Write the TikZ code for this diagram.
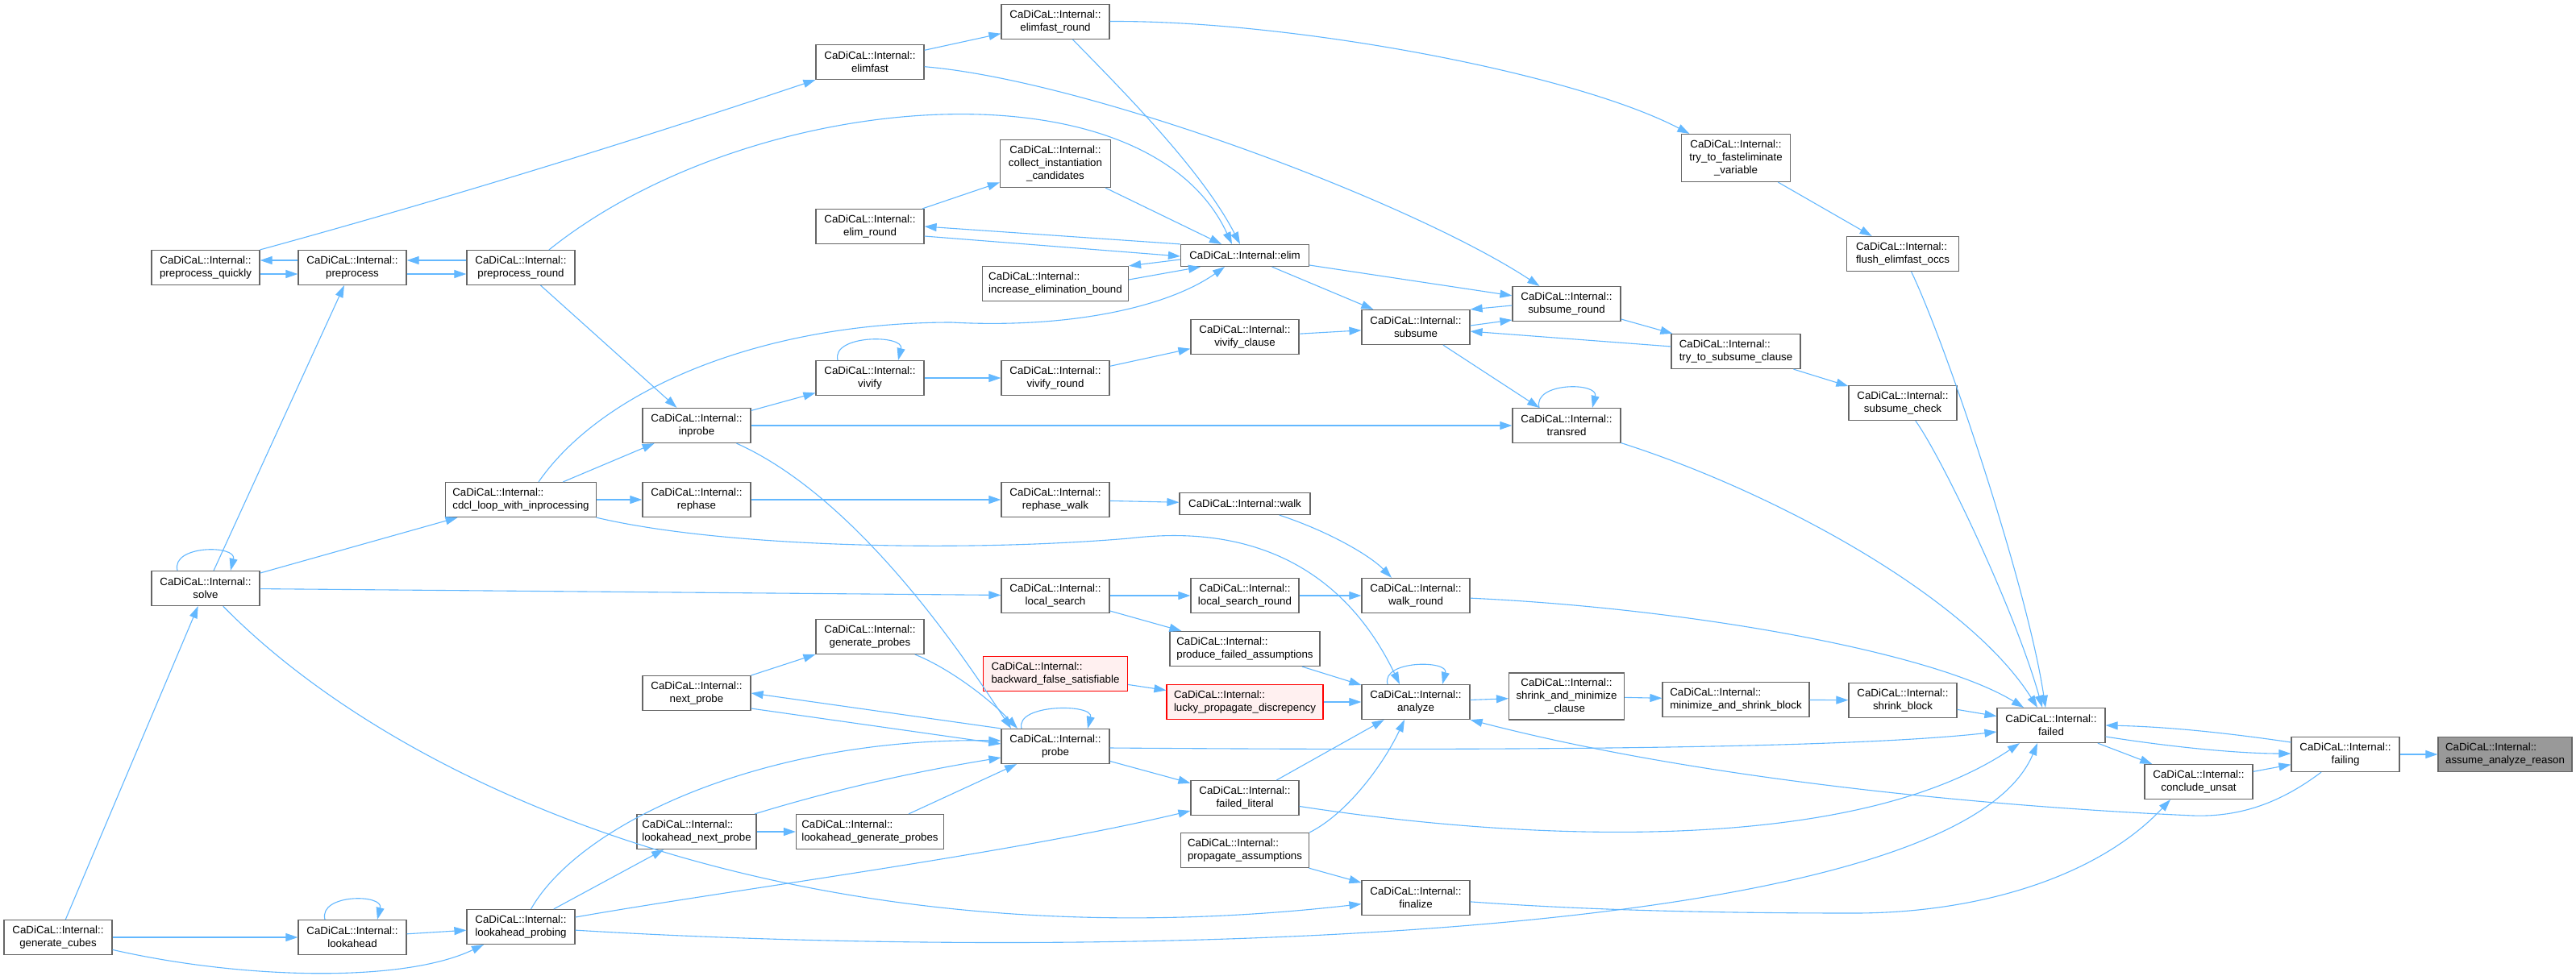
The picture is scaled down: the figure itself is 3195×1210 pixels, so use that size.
\documentclass[tikz,border=0pt]{standalone}
\usepackage{fontspec}
\setmainfont{Liberation Sans}
\usetikzlibrary{arrows.meta}
\definecolor{edgec}{HTML}{63B8FF}
\definecolor{boxc}{HTML}{666666}
\definecolor{redfill}{HTML}{FFF0F0}
\definecolor{rootfill}{HTML}{999999}
\begin{document}
\begin{tikzpicture}[x=1pt,y=-1pt,
 box/.style={draw=boxc, line width=1.2pt, fill=white, rectangle, inner sep=0pt,
   minimum width=134pt, minimum height=43pt, align=center,
   font=\fontsize{13.3}{16.3}\selectfont},
 lbox/.style={box, align=left},
 redbox/.style={lbox, draw=red, fill=redfill},
 rootbox/.style={lbox, fill=rootfill},
 e/.style={draw=edgec, line width=1.1pt, -{Triangle[length=15pt,width=10pt]}},
]
\fill[white] (0,0) rectangle (3195,1210);
\useasboundingbox (0,0) rectangle (3195,1210);

% nodes
\node[box] (pq) at (255,332) {CaDiCaL::Internal::\\preprocess\_quickly};
\node[box] (pp) at (437,332) {CaDiCaL::Internal::\\preprocess};
\node[box] (ppr) at (646,332) {CaDiCaL::Internal::\\preprocess\_round};
\node[box] (efr) at (1309,27) {CaDiCaL::Internal::\\elimfast\_round};
\node[box] (ef) at (1079,77) {CaDiCaL::Internal::\\elimfast};
\node[box, minimum width=137pt, minimum height=59pt] (cic) at (1309,203) {CaDiCaL::Internal::\\collect\_instantiation\\\_candidates};
\node[box] (er) at (1079,281) {CaDiCaL::Internal::\\elim\_round};
\node[box, minimum width=159pt, minimum height=27pt] (elim) at (1544,317) {CaDiCaL::Internal::elim};
\node[lbox, minimum width=181pt] (ieb) at (1309,352) {CaDiCaL::Internal::\\increase\_elimination\_bound};
\node[box] (vc) at (1544,418) {CaDiCaL::Internal::\\vivify\_clause};
\node[box] (viv) at (1079,469) {CaDiCaL::Internal::\\vivify};
\node[box] (vr) at (1309,469) {CaDiCaL::Internal::\\vivify\_round};
\node[box] (inp) at (864,528) {CaDiCaL::Internal::\\inprobe};
\node[box] (sr) at (1943,377) {CaDiCaL::Internal::\\subsume\_round};
\node[box] (sub) at (1756,406) {CaDiCaL::Internal::\\subsume};
\node[box, minimum width=135pt, minimum height=59pt] (tfv) at (2153,196) {CaDiCaL::Internal::\\try\_to\_fasteliminate\\\_variable};
\node[lbox, minimum width=139pt] (feo) at (2360,315) {CaDiCaL::Internal::\\flush\_elimfast\_occs};
\node[lbox, minimum width=160pt] (tsc) at (2153,436) {CaDiCaL::Internal::\\try\_to\_subsume\_clause};
\node[box] (sc) at (2360,500) {CaDiCaL::Internal::\\subsume\_check};
\node[box] (tr) at (1943,528) {CaDiCaL::Internal::\\transred};
\node[lbox, minimum width=187pt] (cdcl) at (646,620) {CaDiCaL::Internal::\\cdcl\_loop\_with\_inprocessing};
\node[box] (solve) at (255,730) {CaDiCaL::Internal::\\solve};
\node[box] (gc) at (72,1163) {CaDiCaL::Internal::\\generate\_cubes};
\node[box] (la) at (437,1163) {CaDiCaL::Internal::\\lookahead};
\node[box] (lap) at (646,1150) {CaDiCaL::Internal::\\lookahead\_probing};
\node[box] (reph) at (864,620) {CaDiCaL::Internal::\\rephase};
\node[box] (rw) at (1309,620) {CaDiCaL::Internal::\\rephase\_walk};
\node[box, minimum width=162pt, minimum height=27pt] (walk) at (1544,625) {CaDiCaL::Internal::walk};
\node[box] (ls) at (1309,739) {CaDiCaL::Internal::\\local\_search};
\node[box] (lsr) at (1544,739) {CaDiCaL::Internal::\\local\_search\_round};
\node[box] (gp) at (1079,790) {CaDiCaL::Internal::\\generate\_probes};
\node[lbox, minimum width=186pt] (pfa) at (1544,805) {CaDiCaL::Internal::\\produce\_failed\_assumptions};
\node[redbox, minimum width=179pt] (bfs) at (1309,836) {CaDiCaL::Internal::\\backward\_false\_satisfiable};
\node[redbox, minimum width=194pt] (lpd) at (1544,871) {CaDiCaL::Internal::\\lucky\_propagate\_discrepency};
\node[box] (np) at (864,860) {CaDiCaL::Internal::\\next\_probe};
\node[box] (probe) at (1309,926) {CaDiCaL::Internal::\\probe};
\node[box] (fl) at (1544,990) {CaDiCaL::Internal::\\failed\_literal};
\node[lbox, minimum width=148pt] (lnp) at (864,1032) {CaDiCaL::Internal::\\lookahead\_next\_probe};
\node[lbox, minimum width=183pt] (lgp) at (1079,1032) {CaDiCaL::Internal::\\lookahead\_generate\_probes};
\node[lbox, minimum width=159pt] (pa) at (1544,1055) {CaDiCaL::Internal::\\propagate\_assumptions};
\node[box] (wr) at (1756,739) {CaDiCaL::Internal::\\walk\_round};
\node[box] (an) at (1756,871) {CaDiCaL::Internal::\\analyze};
\node[box, minimum width=143pt, minimum height=58pt] (smc) at (1943,864) {CaDiCaL::Internal::\\shrink\_and\_minimize\\\_clause};
\node[lbox, minimum width=182pt] (msb) at (2153,868) {CaDiCaL::Internal::\\minimize\_and\_shrink\_block};
\node[box] (shb) at (2360,869) {CaDiCaL::Internal::\\shrink\_block};
\node[box] (fin) at (1756,1114) {CaDiCaL::Internal::\\finalize};
\node[box] (failed) at (2544,900) {CaDiCaL::Internal::\\failed};
\node[box] (failing) at (2909,936) {CaDiCaL::Internal::\\failing};
\node[rootbox, minimum width=166pt] (aar) at (3107,936) {CaDiCaL::Internal::\\assume\_analyze\_reason};
\node[box] (cu) at (2727,970) {CaDiCaL::Internal::\\conclude\_unsat};

% edges - left
\draw[e] ([yshift=9pt]pp.west) -- ([yshift=9pt]pq.east);
\draw[e] ([yshift=-8pt]pq.east) -- ([yshift=-8pt]pp.west);
\draw[e] ([yshift=9pt]ppr.west) -- ([yshift=9pt]pp.east);
\draw[e] ([yshift=-8pt]pp.east) -- ([yshift=-8pt]ppr.west);
\draw[e] (pq.north east) .. controls (552,247) and (782,176) .. (ef.south west);
\draw[e] ([xshift=35pt]ppr.north) .. controls (930,110) and (1420,70) .. ([xshift=-16pt]elim.north);
\draw[e] (ppr) -- (inp);
\draw[e] (solve) -- (pp);
\draw[e] ([xshift=-35pt]solve.north) .. controls +(-8,-32) and +(8,-32) .. ([xshift=31pt]solve.north);
\draw[e] (solve) -- (cdcl);
\draw[e] (solve) -- (ls);
\draw[e] (solve) .. controls (500,980) and (1000,1200) .. (fin);
\draw[e] (gc) -- (solve);
\draw[e] (gc) -- (la);
\draw[e] ([xshift=-34pt]la.north) .. controls +(-8,-32) and +(8,-32) .. ([xshift=31pt]la.north);
\draw[e] (la) -- (lap);
\draw[e] (gc) .. controls (300,1215) and (500,1220) .. (lap);
\draw[e] (lap) -- (lnp);
\draw[e] (lap) .. controls (720,1020) and (950,915) .. ([yshift=7pt]probe.west);
\draw[e] (lap) .. controls (900,1105) and (1250,1060) .. (fl);
\draw[e] (lap) .. controls (1300,1190) and (2420,1180) .. ([xshift=-17pt]failed.south);
\draw[e] (lnp) .. controls (1050,975) and (1150,955) .. ([yshift=-14pt]probe.west);
\draw[e] (lnp) -- (lgp);
\draw[e] (lgp) -- (probe);
\draw[e] ([yshift=-19pt]np.east) -- ([yshift=3pt]probe.west);
\draw[e] (probe.north west) -- (np.east);
\draw[e] (np) -- (gp);
\draw[e] (gp) .. controls (1175,828) and (1225,865) .. ([xshift=-47pt]probe.north);
\draw[e] (inp) .. controls (1070,620) and (1205,830) .. ([xshift=-55pt]probe.north);
\draw[e] (inp) -- (viv);
\draw[e] (inp) -- (tr);
\draw[e] ([xshift=-40pt]viv.north) .. controls +(-8,-32) and +(8,-32) .. ([xshift=35pt]viv.north);
\draw[e] (viv) -- (vr);
\draw[e] (vr) -- (vc);
\draw[e] (vc) -- (sub);

% elimination cluster
\draw[e] (ef) -- (efr);
\draw[e] (ef) .. controls (1350,100) and (1750,250) .. (sr);
\draw[e] (efr) .. controls (1390,110) and (1490,210) .. ([xshift=-6pt]elim.north);
\draw[e] (efr) .. controls (1600,25) and (1950,90) .. (tfv);
\draw[e] (tfv) -- (feo);
\draw[e] (feo) .. controls (2415,430) and (2515,730) .. ([xshift=-7pt]failed.north);
\draw[e] (sc) .. controls (2410,570) and (2500,760) .. ([xshift=-11pt]failed.north);
\draw[e] (sub) -- (tr);
\draw[e] ([xshift=-34pt]tr.north) .. controls +(-8,-32) and +(8,-32) .. ([xshift=32pt]tr.north);
\draw[e] (tr) .. controls (2200,610) and (2440,740) .. ([xshift=-17pt]failed.north);
\draw[e] ([yshift=2pt]sub.east) -- ([yshift=-20pt]sr.west);
\draw[e] ([yshift=-2pt]sr.west) -- (sub.north east);
\draw[e] (sr) -- (tsc);
\draw[e] (tsc) -- (sub);
\draw[e] (tsc) -- (sc);
\draw[e] (elim.north west) -- (er.east);
\draw[e] ([yshift=-12pt]er.east) -- ([yshift=-1pt]elim.west);
\draw[e] ([yshift=-5pt]elim.west) -- (ieb.north east);
\draw[e] ([yshift=5pt]ieb.east) -- ([xshift=-55pt]elim.south);
\draw[e] (er) -- (cic);
\draw[e] (cic) -- (elim);
\draw[e] (elim) -- (sr);
\draw[e] (elim) -- (sub);
\draw[e] ([xshift=22pt]cdcl.north) .. controls (750,480) and (950,400) .. (1180,400)
   .. controls (1330,408) and (1450,380) .. ([xshift=-25pt]elim.south);
\draw[e] (cdcl) -- (inp);
\draw[e] (cdcl) -- (reph);
\draw[e] (cdcl) .. controls (900,680) and (1200,685) .. (1400,668)
   .. controls (1470,660) and (1640,650) .. ([xshift=-20pt]an.north);

% walk / search
\draw[e] (reph) -- (rw);
\draw[e] (rw) -- (walk);
\draw[e] (walk) .. controls (1650,660) and (1700,690) .. ([xshift=-30pt]wr.north);
\draw[e] (wr) .. controls (2100,755) and (2400,810) .. ([xshift=-34pt]failed.north);
\draw[e] (ls) -- (lsr);
\draw[e] (lsr) -- (wr);
\draw[e] (ls) -- (pfa);
\draw[e] (pfa) -- (an);
\draw[e] (bfs) -- (lpd);
\draw[e] (lpd) -- (an);
\draw[e] ([xshift=-35pt]an.north) .. controls +(-8,-30) and +(8,-30) .. ([xshift=33pt]an.north);
\draw[e] (an) -- (smc);
\draw[e] (smc) -- (msb);
\draw[e] (msb) -- (shb);
\draw[e] (shb) -- (failed);
\draw[e] ([yshift=-2pt]probe.east) .. controls (1900,932) and (2300,928) .. ([yshift=-8pt]failed.west);
\draw[e] (probe) -- (fl);
\draw[e] ([xshift=-42pt]probe.north) .. controls +(-8,-31) and +(8,-31) .. ([xshift=40pt]probe.north);
\draw[e] (fl) -- (an);
\draw[e] (fl) .. controls (1900,1045) and (2300,1060) .. ([xshift=-39pt]failed.south);
\draw[e] (pa.north east) .. controls (1670,1010) and (1715,950) .. ([xshift=-14pt]an.south);
\draw[e] (pa) -- (fin);
\draw[e] (fin) .. controls (1950,1128) and (2100,1133) .. (2300,1133)
   .. controls (2450,1133) and (2600,1090) .. ([xshift=-35pt]cu.south);

% right side
\draw[e] ([yshift=-14pt]failed.east) .. controls (2700,928) and (2780,935) .. ([yshift=1pt]failing.west);
\draw[e] ([yshift=15pt]failing.west) .. controls (2780,912) and (2700,902) .. (failed.east);
\draw[e] (failed) -- (cu);
\draw[e] (cu) -- (failing);
\draw[e] ([xshift=-30pt]failing.south) .. controls (2830,995) and (2780,1014) .. (2720,1012)
   .. controls (2450,1000) and (2100,965) .. (an.south east);
\draw[e] (failing) -- (aar);
\end{tikzpicture}
\end{document}
